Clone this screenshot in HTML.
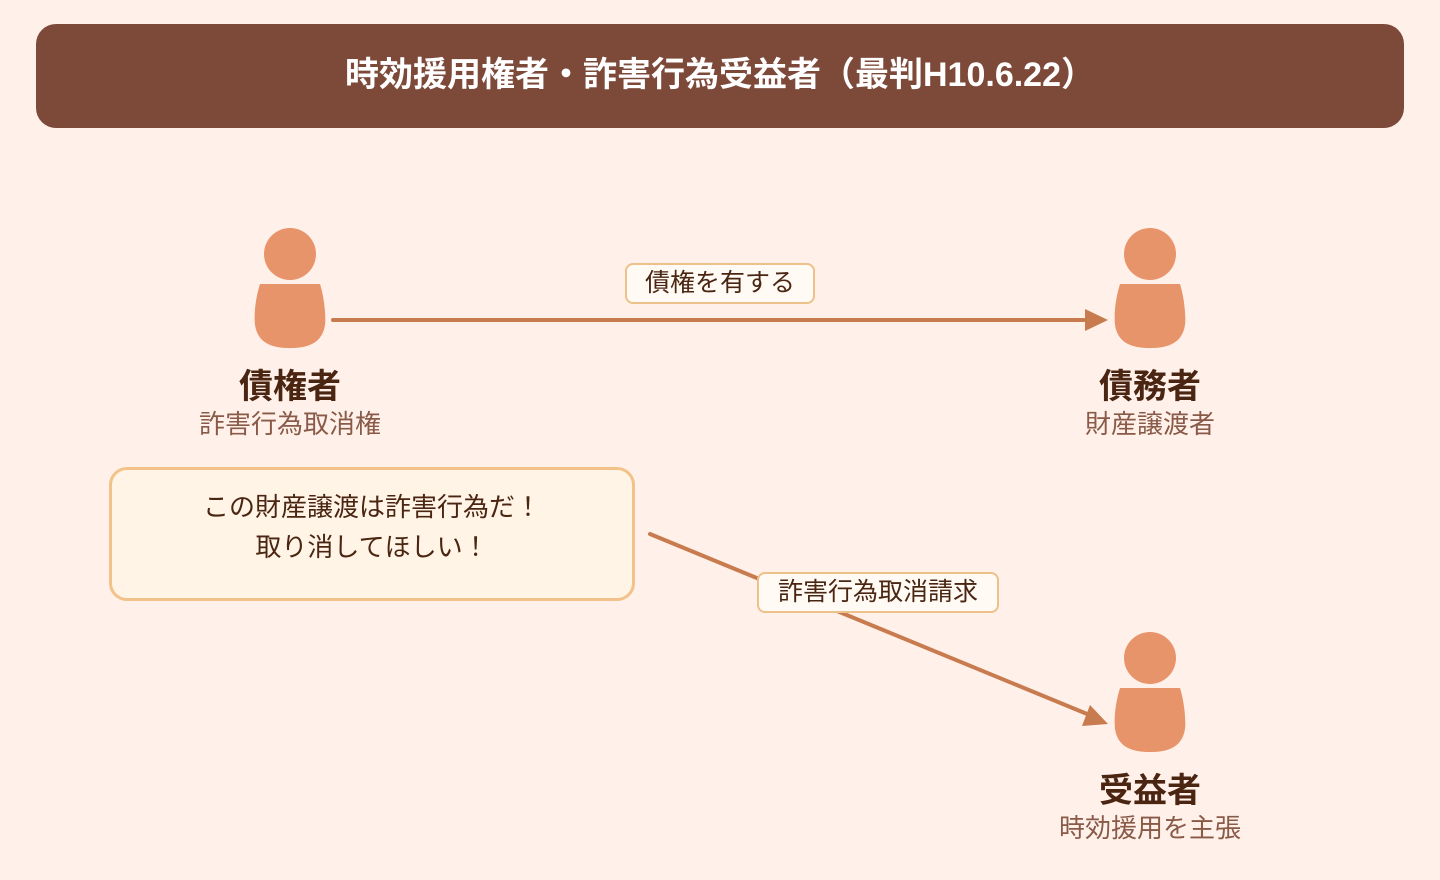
<!DOCTYPE html>
<html><head><meta charset="utf-8"><style>
body{margin:0;width:1440px;height:880px;background:#fff1e9;overflow:hidden;font-family:"Liberation Sans","Noto Sans CJK JP",sans-serif;position:relative}
.t{position:absolute;left:36px;top:24px;width:1368px;height:104px;border-radius:20px;background:#7d4a3a;color:#fff;font-weight:bold;font-size:34px;text-align:center;line-height:102px}
.n{position:absolute;width:300px;text-align:center;font-weight:bold;font-size:34px;color:#4a2512}
.s{position:absolute;width:300px;text-align:center;font-size:26px;color:#8a5a48}
.lb{position:absolute;background:#fffaf3;border:2px solid #eec08a;border-radius:8px;font-size:25px;color:#4a2512;text-align:center;box-sizing:border-box}
</style></head><body>
<div class="t">時効援用権者・詐害行為受益者（最判H10.6.22）</div>
<svg width="1440" height="880" style="position:absolute;left:0;top:0">
<defs><g id="p"><circle cx="0" cy="0" r="26" fill="#e8946a"/><path d="M-30,30 H30 C35,46 36,66 35,71 C32,91 15,94 0,94 C-15,94 -32,91 -35,71 C-36,61 -35,46 -30,30Z" fill="#e8946a"/></g></defs>
<use href="#p" x="290" y="254"/><use href="#p" x="1150" y="254"/><use href="#p" x="1150" y="658"/>
<line x1="333" y1="320" x2="1090" y2="320" stroke="#c97b50" stroke-width="4" stroke-linecap="round"/>
<polygon points="1108,320 1085,309 1085,331" fill="#c97b50"/>
<line x1="650" y1="534" x2="1092" y2="716" stroke="#c97b50" stroke-width="4" stroke-linecap="round"/>
<polygon points="1108,724 1082,726 1090,705" fill="#c97b50"/>
</svg>
<div class="n" style="left:140px;top:359px">債権者</div>
<div class="s" style="left:140px;top:404px">詐害行為取消権</div>
<div class="n" style="left:1000px;top:359px">債務者</div>
<div class="s" style="left:1000px;top:404px">財産譲渡者</div>
<div class="n" style="left:1000px;top:763px">受益者</div>
<div class="s" style="left:1000px;top:808px">時効援用を主張</div>
<div class="lb" style="left:625px;top:263px;width:190px;height:41px;line-height:37px">債権を有する</div>
<div class="lb" style="left:757px;top:572px;width:242px;height:41px;line-height:37px">詐害行為取消請求</div>
<div class="lb" style="left:109px;top:467px;width:526px;height:134px;border-width:3px;border-radius:18px;border-color:#f2c28a;background:#fff4e6;padding-top:17px;line-height:40px;font-size:26px">この財産譲渡は詐害行為だ！<br>取り消してほしい！</div>
</body></html>
